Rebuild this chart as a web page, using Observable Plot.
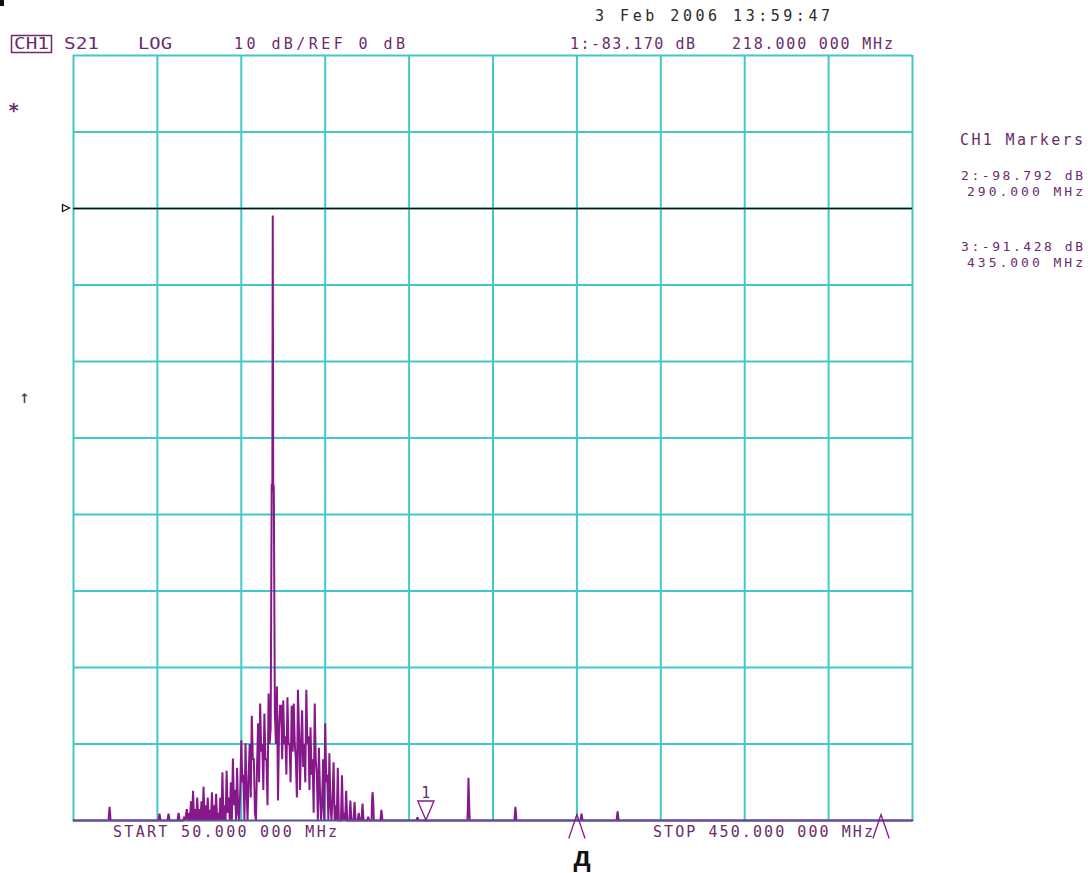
<!DOCTYPE html>
<html>
<head>
<meta charset="utf-8">
<script src="https://cdn.jsdelivr.net/npm/d3@7"></script>
<script src="https://cdn.jsdelivr.net/npm/@observablehq/plot@0.6"></script>
<style>
  html, body { margin: 0; padding: 0; background: #fff; }
  #wrap { position: relative; width: 1088px; height: 873px; overflow: hidden; background: #fff; }
  #ann { position: absolute; left: 0; top: 0; pointer-events: none; }
  #ann text { font-family: "DejaVu Sans Mono", monospace; font-size: 15px; fill: #6a2c6c; }
  #ann text.mk { font-size: 13px; }
</style>
</head>
<body>
<div id="wrap">
<svg id="ann" width="1088" height="873" xmlns="http://www.w3.org/2000/svg">
  <rect x="0" y="0" width="4" height="6" fill="#111"></rect>
  <rect x="11.5" y="35.5" width="40" height="17" fill="none" stroke="#6a2c6c" stroke-width="1.5"></rect>
  <text x="14" y="49" textLength="35" lengthAdjust="spacingAndGlyphs">CH1</text>
  <text x="64" y="49" textLength="35" lengthAdjust="spacingAndGlyphs">S21</text>
  <text x="138" y="49" textLength="34" lengthAdjust="spacingAndGlyphs">LOG</text>
  <text x="234" y="49" textLength="171" lengthAdjust="spacing">10 dB/REF 0 dB</text>
  <text x="595" y="21" textLength="235" lengthAdjust="spacing" style="fill:#2a2a2a">3 Feb 2006  13:59:47</text>
  <text x="570" y="49" textLength="125" lengthAdjust="spacing">1:-83.170 dB</text>
  <text x="732" y="49" textLength="161" lengthAdjust="spacing">218.000 000 MHz</text>
  <text x="960" y="145" textLength="123" lengthAdjust="spacing">CH1 Markers</text>
  <text class="mk" x="961" y="180" textLength="122" lengthAdjust="spacing">2:-98.792 dB</text>
  <text class="mk" x="967" y="196" textLength="116" lengthAdjust="spacing">290.000 MHz</text>
  <text class="mk" x="961" y="251" textLength="122" lengthAdjust="spacing">3:-91.428 dB</text>
  <text class="mk" x="967" y="267" textLength="116" lengthAdjust="spacing">435.000 MHz</text>
  <text x="113" y="837" textLength="224" lengthAdjust="spacing">START  50.000 000 MHz</text>
  <text x="653" y="837" textLength="220" lengthAdjust="spacing">STOP  450.000 000 MHz</text>
  <text x="8" y="117" style="font-size:19px;font-weight:bold">*</text>
  <text x="19" y="403" style="font-size:18px;fill:#4a3a5a">↑</text>
  <path d="M62.5,204.5 L69.5,208 L62.5,211.5 Z" fill="#fff" stroke="#111" stroke-width="1.3"></path>
  <text x="582" y="866" text-anchor="middle" style="font-family:'Liberation Sans',Arial,sans-serif;font-size:27px;font-weight:bold;fill:#111">д</text>
</svg>
</div>
<script>
// ---- data ----
const xGridMHz = [50, 90, 130, 170, 210, 250, 290, 330, 370, 410, 450];
const yGridDb = [-80, -70, -60, -50, -40, -30, -20, -10, 0, 10, 20];
const refLevelDb = [0];
const markerIds = ["1", "2", "3"];
const markerFreqMHz = [218, 290, 435];
const markerLevelDb = [-83.17, -98.792, -91.428];
// S21 trace: [frequency MHz, level dB]
const trace = [
[50,-86],[66.7,-86],[67.2,-78.2],[67.7,-86],[90.5,-86],[91,-79.1],[91.5,-86],[94.8,-86],[95.3,-79.1],[95.8,-86],[99.6,-86],[100.1,-79],[100.6,-86],[102.3,-86],[102.8,-79.5],[103.3,-86],
[104,-78.5],[104.5,-86],[105,-79],[105.5,-84],[106,-77.5],[106.5,-86],[107,-76.1],[107.5,-84],[108,-78.5],[108.5,-86],[109,-77],[109.5,-82],[110,-78.5],[110.5,-85],[111,-77.5],[111.5,-80],[112,-75.6],[112.5,-84],[113,-78],[113.5,-80],[114,-77],[114.5,-86],[115,-78.6],[115.5,-80],[116,-76.3],[116.5,-85],[117,-78],[117.5,-80],[118,-76.5],[118.5,-86],[119,-79],[119.5,-86],[120,-77],[120.5,-86],
[121,-73.7],[121.5,-80],[122,-78],[122.5,-86],[123,-73.5],[123.5,-79],[124,-77],[124.5,-84],[125,-75],[125.5,-86],[126,-71.9],[126.5,-78],[127,-76],[127.5,-86],[128,-73.1],[128.5,-79],[129,-86],[129.5,-76],[130,-69.5],[130.5,-75],[131,-74],[131.5,-86],[132,-69.9],[132.5,-76],[133,-86],[133.5,-74],[134,-70],[134.5,-77],[135,-66.3],[135.5,-72],[136,-72],[136.5,-79],[137,-86],[137.5,-73],[138,-67.3],[138.5,-75],[139,-64.7],[139.5,-71],[140,-70],[140.5,-76],[141,-66],[141.5,-72],[142,-72],[142.5,-78],[143,-63.4],[143.5,-70],[144,-68],
[144.5,-36],[144.8,-37],[145,-0.9],[145.2,-36],[145.5,-36.5],
[146,-66],[146.5,-70],[147,-62.5],[147.5,-77.4],[148,-68],[148.5,-65],[149,-65],[149.5,-72],[150,-64.3],[150.5,-70],[151,-69],[151.5,-74],[152,-63.9],[152.5,-70],[153,-70],[153.5,-75],[154,-65],[154.5,-71],[155,-64.7],[155.5,-70],[156,-72],[156.5,-77],[157,-62.9],[157.5,-68],[158,-76],[158.5,-70],[159,-65.6],[159.5,-73],[160,-70],[160.5,-75],[161,-62.9],[161.5,-70],[162,-69],[162.5,-76],[163,-67.8],[163.5,-74],[164,-72],[164.5,-79],[165,-64.7],[165.5,-72],[166,-74],[166.5,-80],[167,-70.5],[167.5,-76],[168,-86],[168.5,-78],[169,-72],[169.5,-80],[170,-67.3],[170.5,-75],
[171,-74],[171.5,-86],[172,-71.2],[172.5,-78],[173,-86],[173.5,-77],[174,-72.4],[174.5,-80],[175,-78],[175.5,-84],[176,-73.1],[176.5,-82],[177,-86],[177.5,-80],[178,-74.1],[178.5,-84],[179,-79],[179.5,-86],[180,-76.1],[180.5,-82],[181,-86],[181.5,-80],[182,-77.4],[182.5,-86],[183,-80],[183.5,-86],[184,-77.6],[184.5,-86],[185,-80],[185.5,-86],[186,-79],[186.5,-86],[187.3,-86],[187.8,-77.8],[188.3,-86],[190,-86],[190.5,-79.5],[191,-86],[192.1,-86],[192.4,-77],[192.6,-76.3],[192.9,-77.5],[193.2,-86],[196.3,-86],[196.8,-78.6],[197.3,-86],
[213.5,-86],[214,-79.6],[214.5,-86],[237.8,-86],[238.1,-77.6],[238.3,-74.4],[238.6,-77.6],[238.9,-86],[260.2,-86],[260.7,-78.2],[261.2,-86],[291.7,-86],[292.2,-79.1],[292.7,-86],[308.9,-86],[309.4,-78.8],[309.9,-86],[450,-86]
];

// ---- build ----
const traceData = trace.map(([f, v]) => ({f, v}));
const markers = markerIds.map((id, i) => ({id, f: markerFreqMHz[i], v: markerLevelDb[i]}));

const caret = {
  draw(ctx, size) {
    const r = Math.sqrt(size / Math.PI);
    ctx.moveTo(-0.68 * r, r);
    ctx.lineTo(0, -r);
    ctx.lineTo(0.68 * r, r);
  }
};
const downTri = {
  draw(ctx, size) {
    const r = Math.sqrt(size / Math.PI);
    ctx.moveTo(-0.85 * r, -r);
    ctx.lineTo(0.85 * r, -r);
    ctx.lineTo(0, r);
    ctx.closePath();
  }
};

const purple = "#86188a";
const cyan = "#42c8c8";

const chart = Plot.plot({
  width: 1088,
  height: 873,
  marginLeft: 73,
  marginRight: 176,
  marginTop: 55,
  marginBottom: 53,
  x: {domain: [50, 450], axis: null},
  y: {domain: [-80, 20], axis: null, clamp: true},
  style: {background: "transparent", overflow: "visible"},
  marks: [
    Plot.ruleX(xGridMHz, {stroke: cyan, strokeWidth: 2}),
    Plot.ruleY(yGridDb.filter(d => d !== -80), {stroke: cyan, strokeWidth: 2}),
    Plot.ruleY(refLevelDb, {stroke: "#111", strokeWidth: 1.5}),
    Plot.line(traceData, {x: "f", y: "v", stroke: purple, strokeWidth: 2, strokeLinejoin: "miter", strokeMiterlimit: 2}),
    Plot.ruleY([-80], {stroke: "#55549c", strokeWidth: 2}),
    Plot.dot(markers.filter(d => d.id === "1"), {x: "f", y: "v", symbol: downTri, r: 9.5, dy: -10, stroke: purple, fill: "white", strokeWidth: 1.3}),
    Plot.text(markers.filter(d => d.id === "1"), {x: "f", y: "v", text: "id", dy: -23, lineAnchor: "bottom", fill: "#6a2c6c", fontSize: 15, fontFamily: "DejaVu Sans Mono"}),
    Plot.dot(markers.filter(d => d.id !== "1"), {x: "f", y: "v", symbol: caret, r: 12, dy: 6, stroke: purple, fill: "none", strokeWidth: 1.3})
  ]
});

const wrap = document.getElementById("wrap");
chart.style.position = "absolute";
chart.style.left = "0px";
chart.style.top = "0px";
wrap.insertBefore(chart, wrap.firstChild);
</script>
</body>
</html>
